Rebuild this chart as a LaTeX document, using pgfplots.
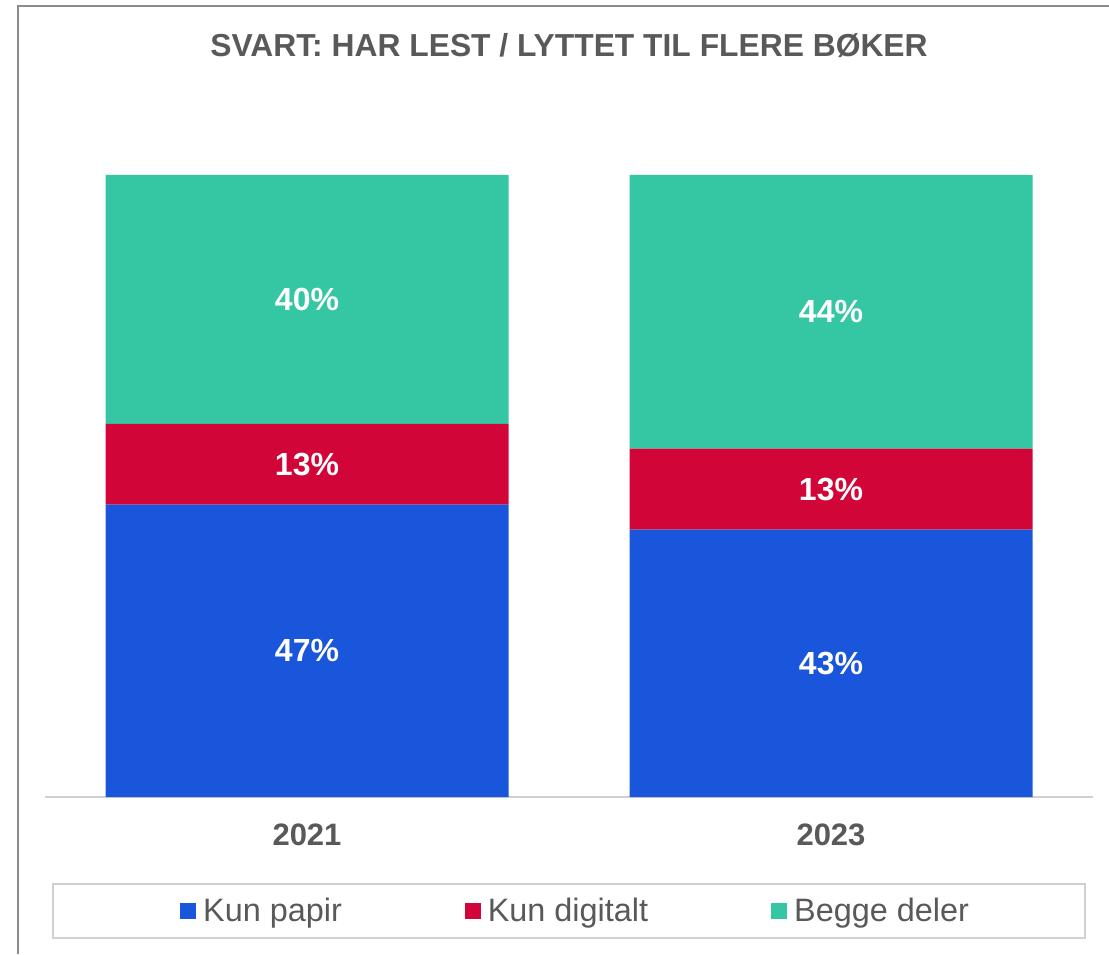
\documentclass[border=0pt]{standalone}
\usepackage{fontspec}
\setmainfont{Liberation Sans}
\usepackage{pgfplots}
\pgfplotsset{compat=1.18}
\definecolor{cblue}{HTML}{1A56DB}
\definecolor{cred}{HTML}{D10537}
\definecolor{cteal}{HTML}{35C7A3}
\definecolor{tgray}{HTML}{595959}
\definecolor{fgray}{HTML}{8C8C8C}
\definecolor{lgray}{HTML}{D0D0D0}
\begin{document}
\begin{tikzpicture}
\path[use as bounding box] (0,0) rectangle (554.5pt,477pt);
% outer frame (cropped)
\draw[fgray, line width=1pt] (9pt,0pt) -- (9pt,474pt) -- (554.5pt,474pt);
% title
\node[font=\bfseries\fontsize{15.9pt}{19pt}\selectfont, text=tgray] at (284.5pt,454pt) {SVART: HAR LEST / LYTTET TIL FLERE BØKER};
% legend box
\draw[lgray, line width=0.9pt] (26.5pt,8pt) rectangle (542.5pt,35pt);
\begin{axis}[
  at={(22.5pt,78.5pt)}, anchor=south west,
  scale only axis, width=524pt, height=311pt,
  xmin=-0.5, xmax=1.5, ymin=0, ymax=100,
  ybar stacked, bar width=201.5pt,
  axis y line=none, axis x line*=bottom,
  x axis line style={draw=lgray, line width=0.8pt},
  xtick={0,1}, xticklabels={2021,2023},
  major tick length=0pt,
  xticklabel style={font=\bfseries\fontsize{15.5pt}{19pt}\selectfont, text=tgray, anchor=center, yshift=-19pt},
  ytick=\empty,
  clip=false,
  nodes near coords={\pgfmathprintnumber[assume math mode=true]{\pgfplotspointmeta}\%},
  nodes near coords style={font=\bfseries\fontsize{16pt}{19pt}\selectfont, text=white, anchor=center},
  legend columns=3,
  legend style={at={(0.5086,-0.1833)}, anchor=center, draw=none, fill=none,
    font=\fontsize{16.2pt}{19pt}\selectfont, text=tgray,
    /tikz/every even column/.append style={column sep=58pt},
    nodes={inner xsep=3.5pt}},
  legend image code/.code={\fill[#1] (0pt,-4pt) rectangle (8pt,4pt);},
]
\addplot[fill=cblue, draw=none] coordinates {(0,47) (1,43)};
\addlegendentry{Kun papir}
\addplot[fill=cred, draw=none] coordinates {(0,13) (1,13)};
\addlegendentry{Kun digitalt}
\addplot[fill=cteal, draw=none] coordinates {(0,40) (1,44)};
\addlegendentry{Begge deler}
\end{axis}
\end{tikzpicture}
\end{document}
